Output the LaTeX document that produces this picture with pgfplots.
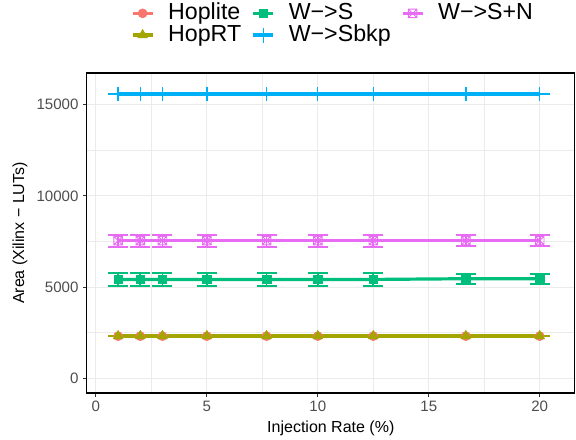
\documentclass[border=0pt]{standalone}
\usepackage{fontspec}
\setmainfont{Liberation Sans}
\usepackage{pgfplots}
\pgfplotsset{compat=1.18}
\definecolor{cHop}{HTML}{F8766D}
\definecolor{cRT}{HTML}{A3A500}
\definecolor{cWS}{HTML}{00BF7D}
\definecolor{cBK}{HTML}{00B0F6}
\definecolor{cSN}{HTML}{E76BF3}
\definecolor{gridc}{HTML}{EBEBEB}
\definecolor{tickc}{HTML}{4D4D4D}
\definecolor{axc}{HTML}{333333}
\pgfdeclareplotmark{boxx}{%
  \pgfpathrectangle{\pgfpoint{-\pgfplotmarksize}{-\pgfplotmarksize}}{\pgfpoint{2\pgfplotmarksize}{2\pgfplotmarksize}}%
  \pgfpathmoveto{\pgfpoint{-\pgfplotmarksize}{-\pgfplotmarksize}}%
  \pgfpathlineto{\pgfpoint{\pgfplotmarksize}{\pgfplotmarksize}}%
  \pgfpathmoveto{\pgfpoint{-\pgfplotmarksize}{\pgfplotmarksize}}%
  \pgfpathlineto{\pgfpoint{\pgfplotmarksize}{-\pgfplotmarksize}}%
  \pgfusepathqstroke}

\pgfplotstableread{
x y e
1 2310 1
2 2310 1
3 2310 1
5 2310 1
7.69 2310 1
10 2310 1
12.5 2310 1
16.67 2310 1
20 2310 1
}\hoplite
\pgfplotstableread{
x y e
1 2320 1
2 2320 1
3 2320 1
5 2320 1
7.69 2320 1
10 2320 1
12.5 2320 1
16.67 2320 1
20 2320 1
}\hoprt
\pgfplotstableread{
x y e
1 5420 365
2 5420 365
3 5420 365
5 5420 365
7.69 5420 365
10 5420 365
12.5 5420 365
16.67 5460 275
20 5460 275
}\ws
\pgfplotstableread{
x y e
1 15590 1
2 15590 1
3 15590 1
5 15590 1
7.69 15590 1
10 15590 1
12.5 15590 1
16.67 15590 1
20 15590 1
}\wsbkp
\pgfplotstableread{
x y e
1 7550 330
2 7550 330
3 7550 330
5 7550 330
7.69 7550 330
10 7550 330
12.5 7550 330
16.67 7550 285
20 7550 285
}\wsn

\begin{document}
\begin{tikzpicture}
\begin{axis}[
  scale only axis, width=366pt, height=240pt,
  xmin=-0.41, xmax=21.58, ymin=-807, ymax=16740,
  xtick={0,5,10,15,20}, ytick={0,5000,10000,15000},
  minor xtick={2.5,7.5,12.5,17.5}, minor ytick={2500,7500,12500},
  grid=both,
  major grid style={gridc, line width=0.8pt},
  minor grid style={gridc, line width=0.4pt},
  tick align=outside, major tick length=2.75pt, minor tick length=0pt,
  xtick pos=bottom, ytick pos=left,
  tick style={axc, line width=0.8pt},
  axis line style={black, line width=0.8pt},
  ticklabel style={font=\fontsize{11.3}{13}\selectfont, text=tickc},
  label style={font=\fontsize{12}{14}\selectfont},
  xlabel={Injection Rate (\%)},
  ylabel={Area (Xilinx − LUTs)},
  /pgf/number format/assume math mode=true,
  /pgf/number format/1000 sep={},
  scaled y ticks=false,
  legend columns=3,
  legend cell align=left,
  legend style={at={(axis description cs:0,1)}, anchor=north west,
    xshift=33.15pt, yshift=52.75pt, draw=none, fill=none,
    inner sep=0pt, outer sep=0pt,
    font=\fontsize{17.4}{20}\selectfont,
    nodes={inner sep=0pt, text height=12.5pt, text depth=3.5pt},
    row sep=0.3pt,
    /tikz/every odd column/.append style={column sep=10.5pt},
    /tikz/every even column/.append style={column sep=7.75pt}},
  legend image code/.code={%
    \draw[mark repeat=2, mark phase=2, #1] plot coordinates {(0pt,0pt) (7.5pt,0pt) (15pt,0pt)};},
  error bars/y dir=both, error bars/y explicit,
  error bars/error bar style={line width=1.4pt, solid},
  error bars/error mark options={rotate=90, mark size=7.5pt, line width=1.4pt},
]
\addlegendimage{cHop, line width=2.4pt, mark=*, mark size=3.4pt, mark options={line width=0.4pt, fill=cHop}}
\addlegendentry{Hoplite}
\addlegendimage{cWS, line width=2.4pt, mark=square*, mark size=3.2pt, mark options={line width=0.4pt, fill=cWS}}
\addlegendentry{W−>S}
\addlegendimage{cSN, line width=2.4pt, mark=boxx, mark size=3.2pt, mark options={line width=0.7pt}}
\addlegendentry{W−>S+N}
\addlegendimage{cRT, line width=2.4pt, mark=triangle*, mark size=4.2pt, mark options={line width=0.4pt, fill=cRT}}
\addlegendentry{HopRT}
\addlegendimage{cBK, line width=2.4pt, mark=+, mark size=5.6pt, mark options={line width=1pt}}
\addlegendentry{W−>Sbkp}

\addplot[forget plot, cHop, line width=2.4pt, mark=*, mark size=3.4pt, mark options={line width=0.4pt, fill=cHop}]
  table[x=x, y=y, y error=e] {\hoplite};
\addplot[forget plot, cRT, line width=2.4pt, mark=triangle*, mark size=4.2pt, mark options={line width=0.4pt, fill=cRT}]
  table[x=x, y=y, y error=e] {\hoprt};
\addplot[forget plot, cWS, line width=2.4pt, mark=square*, mark size=3.2pt, mark options={line width=0.4pt, fill=cWS}]
  table[x=x, y=y, y error=e] {\ws};
\addplot[forget plot, cBK, line width=2.4pt, mark=+, mark size=5.6pt, mark options={line width=1pt}]
  table[x=x, y=y, y error=e] {\wsbkp};
\addplot[forget plot, cSN, line width=2.4pt, mark=boxx, mark size=3.2pt, mark options={line width=0.7pt}]
  table[x=x, y=y, y error=e] {\wsn};
\end{axis}
\pgfresetboundingbox
\path (current axis.south west) ++(-65.1pt,-35.25pt) rectangle ++(432pt,330pt);
\end{tikzpicture}
\end{document}
